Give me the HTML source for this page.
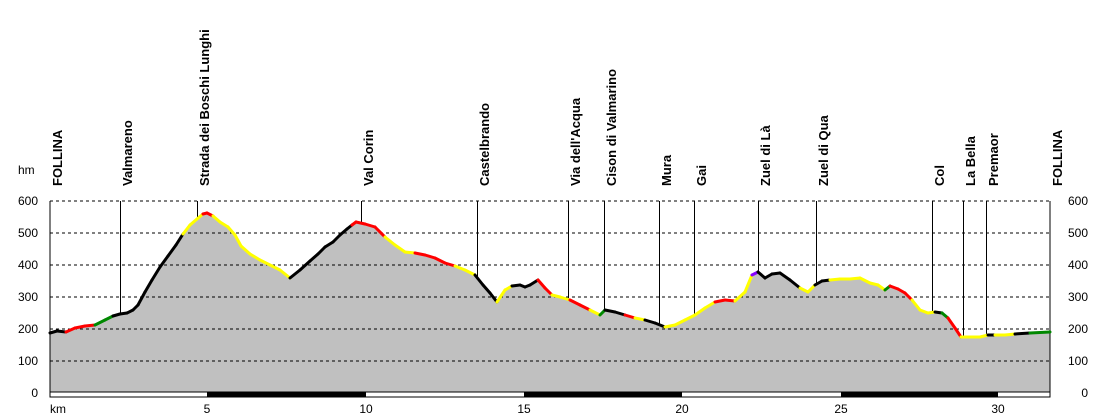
<!DOCTYPE html>
<html><head><meta charset="utf-8"><style>
html,body{margin:0;padding:0;background:#fff;}
svg{display:block;font-family:"Liberation Sans",sans-serif;}
</style></head><body>
<svg id="s" width="1100" height="419" viewBox="0 0 1100 419" xmlns="http://www.w3.org/2000/svg">
<rect width="1100" height="419" fill="#fff"/>
<g id="area"></g>
<g stroke="#000" stroke-width="1" stroke-dasharray="3,3">
<line x1="50" y1="201" x2="1050" y2="201"/><line x1="50" y1="233" x2="1050" y2="233"/>
<line x1="50" y1="265" x2="1050" y2="265"/><line x1="50" y1="297" x2="1050" y2="297"/>
<line x1="50" y1="329" x2="1050" y2="329"/><line x1="50" y1="361" x2="1050" y2="361"/>
</g>
<g id="lines"></g>
<line x1="50" y1="201" x2="50" y2="397" stroke="#000"/>
<line x1="1050" y1="201" x2="1050" y2="397" stroke="#000"/>
<rect x="50" y="392" width="1000" height="5" fill="#fff" stroke="#000" stroke-width="1"/>
<rect x="207" y="392" width="159" height="5" fill="#000"/>
<rect x="524" y="392" width="158" height="5" fill="#000"/>
<rect x="841" y="392" width="157" height="5" fill="#000"/>
<g font-size="12" fill="#000" text-anchor="end">
<text x="38" y="205">600</text><text x="38" y="237">500</text><text x="38" y="269">400</text>
<text x="38" y="301">300</text><text x="38" y="333">200</text><text x="38" y="365">100</text><text x="38" y="397">0</text>
</g>
<g font-size="12" fill="#000" text-anchor="end">
<text x="1088" y="205">600</text><text x="1088" y="237">500</text><text x="1088" y="269">400</text>
<text x="1088" y="301">300</text><text x="1088" y="333">200</text><text x="1088" y="365">100</text><text x="1088" y="397">0</text>
</g>
<g font-size="12" fill="#000" text-anchor="middle">
<text x="207" y="413">5</text><text x="366" y="413">10</text><text x="524" y="413">15</text>
<text x="682" y="413">20</text><text x="841" y="413">25</text><text x="998" y="413">30</text>
</g>
<text x="50" y="413" font-size="12">km</text>
<text x="18" y="174" font-size="12">hm</text>
<g id="labels" font-size="13" font-weight="bold" fill="#000"></g>
</svg>
<script>
var P=[[50,333],[57,331],[66,332],[75,328],[85,326],[95,325],[105,320],[113,316],[120,314],[127,313],[133,310],[138,305],[145,292],[152,280],[160,267],[168,256],[176,245],[183,234],[190,225],[197,219],[203,214],[207,213],[213,216],[220,222],[228,227],[235,235],[241,246],[250,254],[260,260],[270,265],[280,270],[290,278],[300,270],[310,261],[318,254],[325,247],[333,242],[340,235],[347,229],[352,225],[356,222],[365,224],[375,227],[385,237],[395,245],[405,252],[415,253],[425,255],[435,258],[445,263],[455,266],[465,270],[475,275],[483,285],[490,293],[497,302],[505,290],[512,286],[520,285],[525,287],[530,285],[538,280],[545,288],[552,295],[560,297],[570,300],[580,305],[590,310],[600,315],[605,310],[615,312],[625,315],[635,318],[645,320],[655,323],[665,327],[675,325],[685,320],[695,315],[705,308],[715,302],[725,300],[735,301],[745,292],[752,275],[758,272],[765,278],[772,274],[780,273],[790,280],[800,288],[808,292],[815,285],[822,281],[830,280],[840,279],[850,279],[860,278],[870,283],[878,285],[885,290],[890,286],[898,289],[905,293],[912,300],[920,310],[928,313],[935,312],[942,313],[948,318],[955,328],[961,337],[970,337],[980,337],[988,335],[995,335],[1005,335],[1015,334],[1030,333],[1050,332]];
var C=[[65,'#000'],[96,'#f00'],[110,'#080'],[165,'#000'],[172,'#ff0'],[185,'#000'],[203,'#ff0'],[212,'#f00'],[290,'#ff0'],[352,'#000'],[385,'#f00'],[420,'#ff0'],[455,'#f00'],[460,'#080'],[475,'#ff0'],[497,'#000'],[510,'#ff0'],[515,'#080'],[540,'#000'],[555,'#f00'],[575,'#ff0'],[590,'#f00'],[600,'#ff0'],[605,'#080'],[630,'#000'],[640,'#f00'],[650,'#ff0'],[670,'#000'],[690,'#ff0'],[715,'#ff0'],[735,'#f00'],[750,'#ff0'],[756,'#80f'],[800,'#000'],[815,'#ff0'],[830,'#000'],[870,'#ff0'],[885,'#ff0'],[890,'#080'],[912,'#f00'],[932,'#ff0'],[940,'#000'],[948,'#080'],[962,'#f00'],[985,'#ff0'],[1000,'#000'],[1020,'#ff0'],[1040,'#000'],[1045,'#080'],[1051,'#000']];
function col(x){for(var i=0;i<C.length;i++)if(x<C[i][0])return C[i][1];return '#000';}
var ns="http://www.w3.org/2000/svg";
function el(t,a,p){var e=document.createElementNS(ns,t);for(var k in a)e.setAttribute(k,a[k]);p.appendChild(e);return e;}
var d="M50,393 "+P.map(function(p){return "L"+p[0]+","+p[1];}).join(" ")+" L1050,393Z";
el('path',{d:d,fill:'#c0c0c0'},document.getElementById('area'));
var s=document.getElementById('s');
for(var i=0;i<P.length-1;i++){var a=P[i],b=P[i+1];el('line',{x1:a[0],y1:a[1],x2:b[0],y2:b[1],stroke:col((a[0]+b[0])/2),'stroke-width':3,'stroke-linecap':'round'},s);}
function yAt(x){for(var i=0;i<P.length-1;i++){if(x>=P[i][0]&&x<=P[i+1][0]){var t=(x-P[i][0])/(P[i+1][0]-P[i][0]);return P[i][1]+t*(P[i+1][1]-P[i][1]);}}return 393;}
var L=[[50,'FOLLINA',0],[120,'Valmareno',1],[197,'Strada dei Boschi Lunghi',1],[361,'Val Corin',1],[477,'Castelbrando',1],[568,"Via dell'Acqua",1],[604,'Cison di Valmarino',1],[659,'Mura',1],[694,'Gai',1],[758,'Zuel di Là',1],[816,'Zuel di Qua',1],[932,'Col',1],[963,'La Bella',1],[986,'Premaor',1],[1050,'FOLLINA',0]];
var lg=document.getElementById('labels'),ln=document.getElementById('lines');
L.forEach(function(l){var x=l[0];
if(l[2])el('line',{x1:x+0.5,y1:201,x2:x+0.5,y2:yAt(x),stroke:'#000','stroke-width':1},ln);
var t=el('text',{x:0,y:0,transform:'translate('+(x+12)+',186) rotate(-90)'},lg);t.textContent=l[1];});
</script>
</body></html>
